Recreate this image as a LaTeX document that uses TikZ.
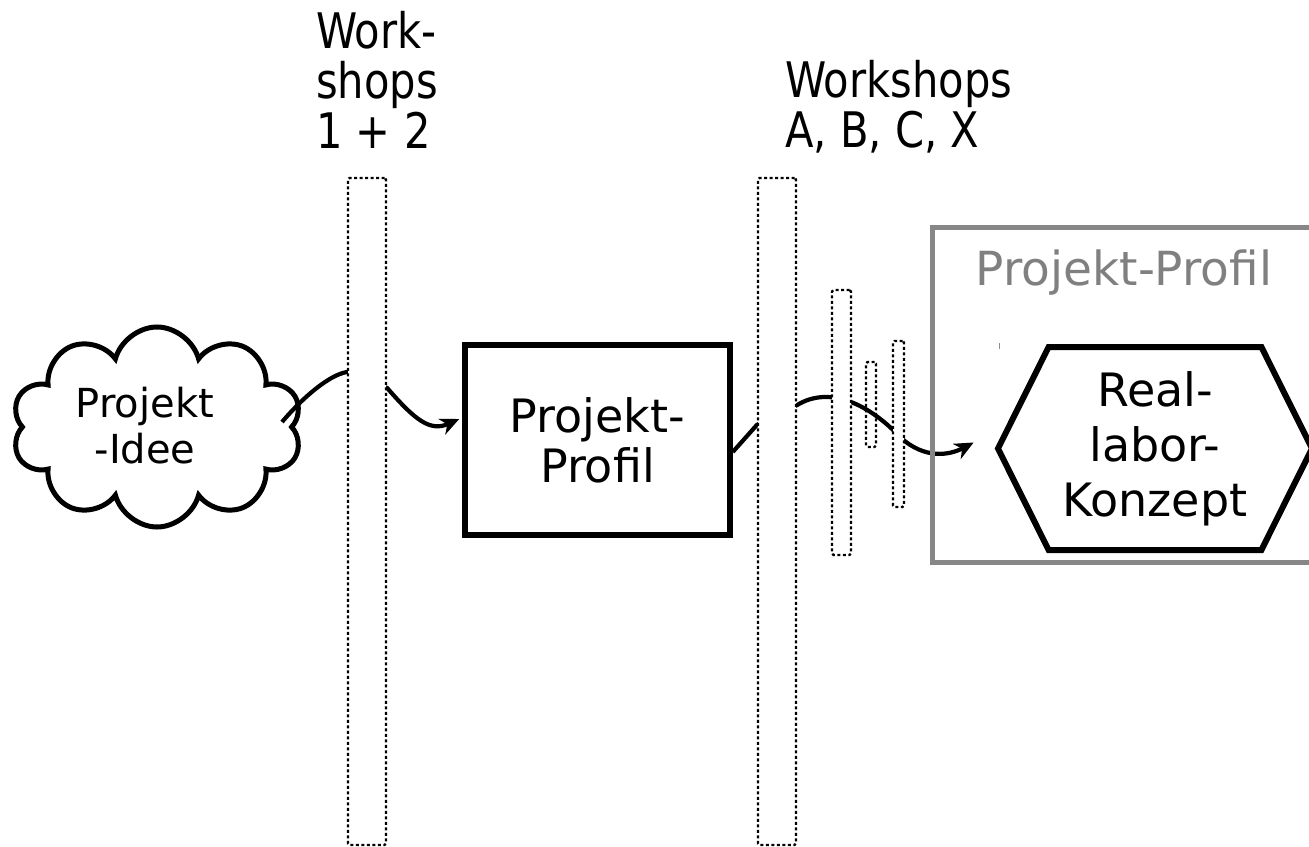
\documentclass[tikz,border=0pt]{standalone}
\usepackage{fontspec}
\setmainfont{DejaVu Sans}
\newfontfamily\narrowfont[FakeStretch=0.85]{DejaVu Sans}
\usetikzlibrary{arrows.meta,shapes.symbols,backgrounds}

\tikzset{
	workshop/.style={draw, line width=2.4pt, dash pattern=on 3pt off 2.5pt, rounded corners=1.5pt, fill=white, inner sep=0pt},
	flow/.style={line width=4.2pt},
	flowtip/.style={flow, -{Stealth[length=19pt, width=17pt, inset=6pt]}},
	toplabel/.style={anchor=north west, inner sep=0pt, align=left, font=\narrowfont\fontsize{49}{50}\selectfont},
	bigtext/.style={align=center, inner sep=0pt, font=\fontsize{46}{50}\selectfont}
}

\begin{document}
\begin{tikzpicture}[x=1pt, y=-1pt]
			%%%%% START %%%%%
			\useasboundingbox (0, 0) rectangle (1309, 846);
			\clip (0, 0) rectangle (1309, 846);
			
			\node[cloud, cloud puffs=10, aspect=1.44, draw, line width=5pt, minimum width=290pt, minimum height=200pt] (idee) at (157, 427) {};
			\node[align=center, inner sep=0pt, font=\fontsize{40}{46}\selectfont] (ideetext) at (145, 426) {Projekt\\-Idee};
			\coordinate (ideeout) at (282, 422);
			
			\node[draw, line width=5.5pt, minimum width=265pt, minimum height=190pt, bigtext] (prof) at (597.5, 440) {Projekt-\\Profil};
			
			\node[draw=black!47, line width=4.5pt, minimum width=410pt, minimum height=335pt, anchor=north west] (profilbox) at (930, 225) {};
			\node[text=black!50, anchor=base, inner sep=0pt, font=\fontsize{47}{50}\selectfont] (profiltitel) at (1124, 285) {Projekt-Profil};
			\draw[black!45, line width=1pt] (999, 343) -- (999, 349);
			
			\node[draw, signal, signal to=east and west, signal pointer angle=127, line width=6pt,
				minimum width=314pt, minimum height=203pt, bigtext, font=\fontsize{46}{55}\selectfont] (konzept) at (1155, 448.5) {Real-\\labor-\\Konzept};
			
			% workshops
			\node[workshop, minimum width=38pt, minimum height=667pt] (ws1) at (367, 511.5) {};
			\node[workshop, minimum width=38pt, minimum height=667pt] (ws2) at (777, 511.5) {};
			\node[workshop, minimum width=19pt, minimum height=265pt] (wsa) at (841.5, 422.5) {};
			\node[workshop, fill=none, minimum width=10pt, minimum height=85pt] (wsb) at (871, 404.5) {};
			\node[workshop, minimum width=11pt, minimum height=166pt] (wsc) at (898.5, 424) {};
			
			\node[toplabel] (wslabel) at (316, 11) {Work-\\shops\\1 + 2};
			\node[toplabel] (wsxlabel) at (785, 60) {Workshops\\A, B, C, X};
			
			\begin{pgfonlayer}{background}
			\draw[flowtip] (ideeout) .. controls (305, 395) and (330, 375) .. ([yshift=139.5pt]ws1.west)
				-- ([yshift=123.5pt]ws1.east) .. controls (415, 420) and (430, 432) .. ([xshift=-3pt, yshift=21pt]prof.west);
			\draw[flowtip] ([yshift=-12pt]prof.east) -- ([yshift=86.5pt]ws2.west) -- ([yshift=106.5pt]ws2.east)
				.. controls (830, 385) and (870, 405) .. (900, 437) .. controls (925, 460) and (950, 455) .. ([xshift=-21pt, yshift=6pt]konzept.west);
			\end{pgfonlayer}
			%%%%% END %%%%%
\end{tikzpicture}
\end{document}
